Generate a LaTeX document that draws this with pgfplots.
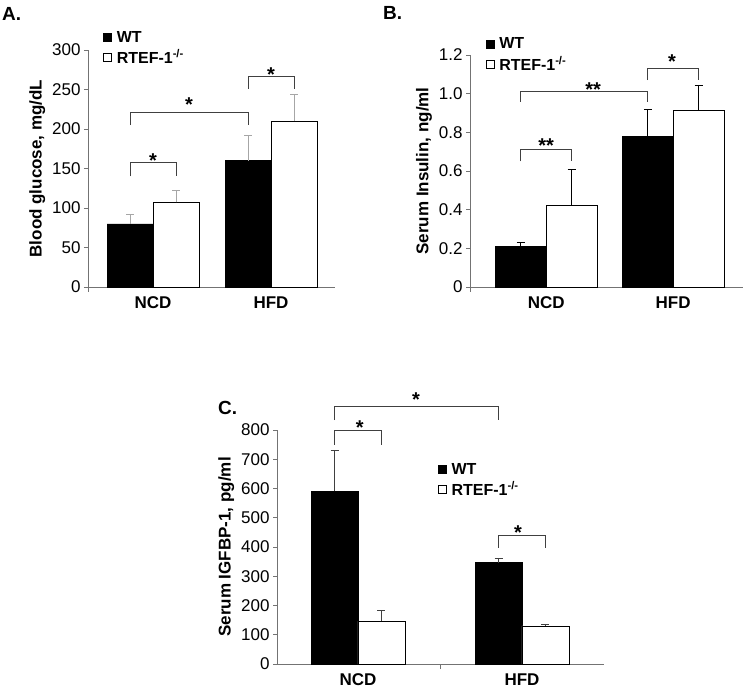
\documentclass[border=0pt]{standalone}
\usepackage{pgfplots}
\pgfplotsset{compat=1.18}
\usepackage{fontspec}
\setmainfont{Liberation Sans}
\newcommand{\fs}[1]{\fontsize{#1}{#1}\selectfont}
\tikzset{sigstar/.style={font=\bfseries\fs{20}, anchor=base, yshift=-12pt, inner sep=0pt}}
\pgfplotsset{
  panel/.style={
    scale only axis, clip=false, anchor=south west,
    axis x line*=bottom, axis y line*=left,
    axis line style={gray!90!black, line width=0.8pt},
    tick align=outside, major tick length=4pt,
    every tick/.style={gray!90!black, line width=0.8pt},
    ymin=0,
    xtick={0,1}, xticklabels={NCD,HFD},
    x tick style={draw=none},
    xticklabel style={font=\bfseries\fs{17}, yshift=-2pt},
    yticklabel style={font=\fs{17}},
    /pgf/number format/assume math mode=true,
    ylabel style={font=\bfseries\fs{17}},
    legend cell align=left,
    legend style={draw=none, fill=none, font=\bfseries\fs{16}, row sep=2pt, inner sep=0pt},
  },
  wtleg/.style={legend image code/.code={\draw[fill=black,draw=black] (0pt,-4pt) rectangle (8pt,4pt); \path (11pt,0pt);}},
  koleg/.style={legend image code/.code={\draw[fill=white,draw=black, line width=0.6pt] (0pt,-4pt) rectangle (8pt,4pt); \path (11pt,0pt);}},
  brk/.style={black!75, line width=0.9pt},
}
\begin{document}
\begin{tikzpicture}
\useasboundingbox (0,0) rectangle (750pt,694pt);
% ---------------- Panel A ----------------
\begin{axis}[panel, at={(88pt,407pt)}, width=247pt, height=237pt,
  xmin=-0.551, xmax=1.542, ymax=300, ytick={0,50,...,300},
  ylabel={Blood glucose, mg/dL},
  extra x ticks={-0.551}, extra x tick labels={},
  extra x tick style={x tick style={draw=gray!90!black}, major tick length=5pt},
  legend style={at={(rel axis cs:0.061,1.089)}, anchor=north west}]
\addlegendimage{wtleg}\addlegendentry{WT}
\addlegendimage{koleg}\addlegendentry{RTEF-1\textsuperscript{-/-}}
\addplot[ybar, bar width=0.39, bar shift=0pt, fill=black, draw=black,
  error bars/.cd, y dir=plus, y explicit,
  error bar style={gray!70, line width=0.8pt}, error mark options={rotate=90, gray!70, mark size=4pt, line width=0.8pt}]
  coordinates {(-0.195,80) +- (0,12) (0.805,160) +- (0,32)};
\addplot[ybar, bar width=0.39, bar shift=0pt, fill=white, draw=black, line width=0.8pt,
  error bars/.cd, y dir=plus, y explicit,
  error bar style={gray!70, line width=0.8pt}, error mark options={rotate=90, gray!70, mark size=4pt, line width=0.8pt}]
  coordinates {(0.195,107) +- (0,15) (1.195,210) +- (0,34)};
\addplot[brk] coordinates {(-0.195,140) (-0.195,158) (0.195,158) (0.195,140)};
\addplot[brk] coordinates {(-0.195,205) (-0.195,221) (0.805,221) (0.805,205)};
\addplot[brk] coordinates {(0.805,251) (0.805,267) (1.195,267) (1.195,251)};
\node[sigstar] at (axis cs:0,167) {*};
\node[sigstar] at (axis cs:0.305,237) {*};
\node[sigstar] at (axis cs:1.0,275) {*};
\end{axis}
% ---------------- Panel B ----------------
\begin{axis}[panel, at={(470pt,407pt)}, width=273pt, height=232pt,
  xmin=-0.6, xmax=1.55, ymax=1.2, ytick={0,0.2,...,1.2},
  yticklabels={0,0.2,0.4,0.6,0.8,1.0,1.2},
  ylabel={Serum Insulin, ng/ml},
  extra x ticks={-0.6}, extra x tick labels={},
  extra x tick style={x tick style={draw=gray!90!black}, major tick length=5pt},
  legend style={at={(rel axis cs:0.057,1.084)}, anchor=north west}]
\addlegendimage{wtleg}\addlegendentry{WT}
\addlegendimage{koleg}\addlegendentry{RTEF-1\textsuperscript{-/-}}
\addplot[ybar, bar width=0.4, bar shift=0pt, fill=black, draw=black,
  error bars/.cd, y dir=plus, y explicit,
  error bar style={black, line width=0.9pt}, error mark options={rotate=90, black, mark size=4pt, line width=0.9pt}]
  coordinates {(-0.2,0.21) +- (0,0.02) (0.8,0.78) +- (0,0.14)};
\addplot[ybar, bar width=0.4, bar shift=0pt, fill=white, draw=black, line width=0.8pt,
  error bars/.cd, y dir=plus, y explicit,
  error bar style={black, line width=0.9pt}, error mark options={rotate=90, black, mark size=4pt, line width=0.9pt}]
  coordinates {(0.2,0.42) +- (0,0.19) (1.2,0.915) +- (0,0.13)};
\addplot[brk] coordinates {(-0.2,0.65) (-0.2,0.71) (0.2,0.71) (0.2,0.65)};
\addplot[brk] coordinates {(-0.2,0.957) (-0.2,1.01) (0.8,1.01) (0.8,0.957)};
\addplot[brk] coordinates {(0.8,1.07) (0.8,1.133) (1.2,1.133) (1.2,1.07)};
\node[sigstar] at (axis cs:0,0.76) {**};
\node[sigstar] at (axis cs:0.37,1.045) {**};
\node[sigstar] at (axis cs:0.99,1.19) {*};
\end{axis}
% ---------------- Panel C ----------------
\begin{axis}[panel, at={(277pt,30pt)}, width=327pt, height=234pt,
  xmin=-0.494, xmax=1.5, ymax=800, ytick={0,100,...,800},
  ylabel={Serum IGFBP-1, pg/ml},
  extra x ticks={0.5}, extra x tick labels={},
  extra x tick style={x tick style={draw=gray!90!black}, major tick length=5pt},
  legend style={at={(rel axis cs:0.492,0.868)}, anchor=north west}]
\addlegendimage{wtleg}\addlegendentry{WT}
\addlegendimage{koleg}\addlegendentry{RTEF-1\textsuperscript{-/-}}
\addplot[ybar, bar width=0.287, bar shift=0pt, fill=black, draw=black,
  error bars/.cd, y dir=plus, y explicit,
  error bar style={black!75, line width=0.8pt}, error mark options={rotate=90, black!75, mark size=4pt, line width=0.8pt}]
  coordinates {(-0.143,590) +- (0,140) (0.857,347) +- (0,15)};
\addplot[ybar, bar width=0.287, bar shift=0pt, fill=white, draw=black, line width=0.8pt,
  error bars/.cd, y dir=plus, y explicit,
  error bar style={black!75, line width=0.8pt}, error mark options={rotate=90, black!75, mark size=4pt, line width=0.8pt}]
  coordinates {(0.143,147) +- (0,35) (1.143,130) +- (0,6)};
\addplot[brk] coordinates {(-0.143,749) (-0.143,797) (0.143,797) (0.143,749)};
\addplot[brk] coordinates {(-0.143,834) (-0.143,879) (0.857,879) (0.857,834)};
\addplot[brk] coordinates {(0.857,397) (0.857,441) (1.143,441) (1.143,397)};
\node[sigstar] at (axis cs:0.01,824) {*};
\node[sigstar] at (axis cs:0.354,920) {*};
\node[sigstar] at (axis cs:0.976,465) {*};
\end{axis}
% panel titles
\node[anchor=west, font=\bfseries\fs{19}, inner sep=0pt] at (2pt,680pt) {A.};
\node[anchor=west, font=\bfseries\fs{19}, inner sep=0pt] at (383pt,681pt) {B.};
\node[anchor=west, font=\bfseries\fs{19}, inner sep=0pt] at (218pt,286pt) {C.};
\end{tikzpicture}
\end{document}
